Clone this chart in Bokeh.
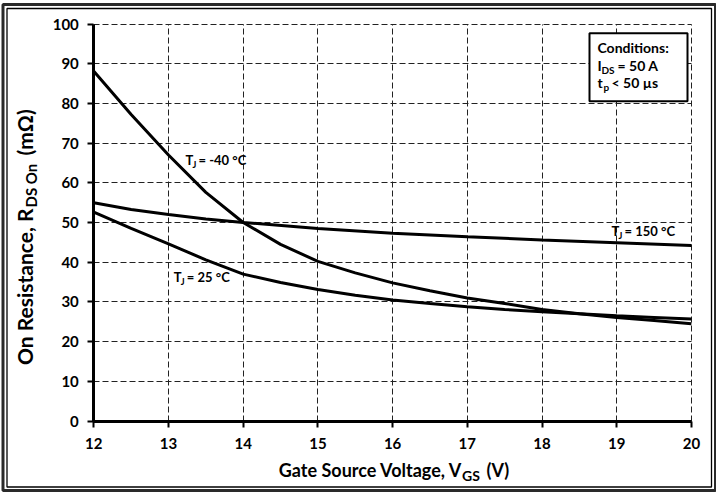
import math
from bokeh.plotting import figure
from bokeh.models import Range1d, FixedTicker, Label, BoxAnnotation
from bokeh.embed import file_html
from bokeh.resources import INLINE

# ---- data ----
vgs_m40 = [12, 12.5, 13, 13.5, 14, 14.5, 15, 15.5, 16, 16.5, 17, 17.5, 18, 18.5, 19, 19.5, 20]
rds_m40 = [88.1, 77.2, 67.0, 57.6, 50.0, 44.5, 40.2, 37.3, 34.8, 32.8, 31.0, 29.6, 28.1, 27.0, 26.1, 25.3, 24.5]

vgs_25 = [12, 12.5, 13, 13.5, 14, 14.5, 15, 15.5, 16, 16.5, 17, 17.5, 18, 18.5, 19, 19.5, 20]
rds_25 = [52.6, 48.5, 44.6, 40.6, 37.0, 34.9, 33.1, 31.7, 30.5, 29.6, 28.8, 28.1, 27.5, 27.0, 26.5, 26.1, 25.7]

vgs_150 = [12, 12.5, 13, 13.5, 14, 15, 16, 17, 18, 19, 20]
rds_150 = [55.0, 53.3, 52.0, 50.9, 50.0, 48.5, 47.3, 46.4, 45.6, 44.9, 44.2]

x_ticks = [12, 13, 14, 15, 16, 17, 18, 19, 20]
y_ticks = [0, 10, 20, 30, 40, 50, 60, 70, 80, 90, 100]

FONT = "Lato"

# ---- layout constants (page pixels; the canvas starts at the page's top-left) ----
W, H = 716, 492
X0_PX, X_SCALE = 93.3, 74.7      # page x of V=12, pixels per volt
Y0_PX, Y_SCALE = 420.5, 3.97     # page y of R=0, pixels per mOhm

def dx(px):
    return x_ticks[0] + (px - X0_PX) / X_SCALE

def dy(py):
    return y_ticks[0] + (Y0_PX - py) / Y_SCALE

p = figure(width=W, height=H, output_backend="svg", toolbar_location=None,
           x_range=Range1d(dx(0), dx(W)), y_range=Range1d(dy(H), dy(0)),
           min_border_left=0, min_border_right=0, min_border_top=0, min_border_bottom=0)
p.outline_line_color = None
p.background_fill_color = "white"
p.border_fill_color = "white"

xb = (x_ticks[0], x_ticks[-1])
yb = (y_ticks[0], y_ticks[-1])

p.xaxis.fixed_location = y_ticks[0]
p.yaxis.fixed_location = x_ticks[0]
p.xaxis.bounds = xb
p.yaxis.bounds = yb
p.xaxis.ticker = FixedTicker(ticks=x_ticks)
p.yaxis.ticker = FixedTicker(ticks=y_ticks)
for ax in (p.xaxis, p.yaxis):
    ax.axis_line_width = 3
    ax.axis_line_color = "black"
    ax.major_tick_line_width = 2
    ax.major_tick_line_color = "black"
    ax.major_tick_out = 6
    ax.major_tick_in = 0
    ax.minor_tick_line_color = None
    ax.major_label_text_font = FONT
    ax.major_label_text_font_style = "bold"
    ax.major_label_text_font_size = "15px"
    ax.major_label_text_color = "black"
p.xaxis.major_label_standoff = 11
p.yaxis.major_label_standoff = 9

p.xgrid.ticker = FixedTicker(ticks=x_ticks)
p.ygrid.ticker = FixedTicker(ticks=y_ticks)
use_segments = False
try:
    p.xgrid.bounds = xb
    p.ygrid.bounds = yb
    p.xgrid.cross_bounds = yb
    p.ygrid.cross_bounds = xb
except Exception:
    use_segments = True

if use_segments:
    p.xgrid.visible = False
    p.ygrid.visible = False
    p.segment(x0=x_ticks, y0=[yb[0]] * len(x_ticks), x1=x_ticks, y1=[yb[1]] * len(x_ticks),
              line_color="#222222", line_width=1, line_dash="6 3")
    p.segment(x0=[xb[0]] * len(y_ticks), y0=y_ticks, x1=[xb[1]] * len(y_ticks), y1=y_ticks,
              line_color="#222222", line_width=1, line_dash="6 3")
else:
    for g in (p.xgrid, p.ygrid):
        g.grid_line_color = "#222222"
        g.grid_line_width = 1
        g.grid_line_dash = "6 3"

p.line(vgs_m40, rds_m40, line_color="black", line_width=3)
p.line(vgs_25, rds_25, line_color="black", line_width=3)
p.line(vgs_150, rds_150, line_color="black", line_width=3)


def lab(text, px, py, size, align="left", rotated=False):
    # px/py: where the text's baseline should sit on the page; the rendered text
    # sits about 0.42 em below the requested baseline, so compensate for it
    shift = 0.42 * size
    if rotated:
        px -= shift
    else:
        py -= shift
    p.add_layout(Label(x=dx(px), y=dy(py), text=text, text_font=FONT, text_font_style="bold",
                       text_font_size=f"{size}px", text_color="black", text_align=align,
                       text_baseline="alphabetic", angle=math.pi / 2 if rotated else 0.0))

def frame_box(l, t, r, b, width, color, fill=None):
    p.add_layout(BoxAnnotation(left=dx(l), right=dx(r), top=dy(t), bottom=dy(b),
                               fill_color=fill if fill else "white", fill_alpha=1.0 if fill else 0.0,
                               line_color=color, line_alpha=1.0, line_width=width))

# double outer border of the picture
frame_box(2.5, 4, 715, 490, 3, "#2a2a2a")
frame_box(6.5, 8, 711, 486.5, 1.3, "#000000")

# curve labels
lab("T", 185, 165, 13); lab("J", 192, 167.5, 9); lab("= -40 °C", 198, 165, 13)
lab("T", 173.3, 282, 13); lab("J", 180.3, 284.5, 9); lab("= 25 °C", 186.3, 282, 13)
lab("T", 611, 236, 13); lab("J", 618, 238.5, 9); lab("= 150 °C", 624, 236, 13)

# conditions box
frame_box(589, 32.7, 687, 100.7, 2, "#000000", fill="white")
lab("Conditions:", 597, 53, 14)
lab("I", 597, 71, 14); lab("DS", 601, 73.5, 10); lab("= 50 A", 617, 71, 14)
lab("t", 597, 88, 14); lab("p", 603, 90.5, 10); lab("< 50 µs", 611, 88, 14)

# axis titles
lab("Gate Source Voltage, V", 462, 477, 18, align="right")
lab("GS", 461.5, 480.5, 14)
lab("(V)", 486, 477, 18)

lab("On Resistance, R", 33, 208, 21, align="right", rotated=True)
lab("DS On", 37, 207, 15, align="left", rotated=True)
lab("(mΩ)", 33, 155, 21, align="left", rotated=True)

open("out.html", "w").write(file_html(p, INLINE))
